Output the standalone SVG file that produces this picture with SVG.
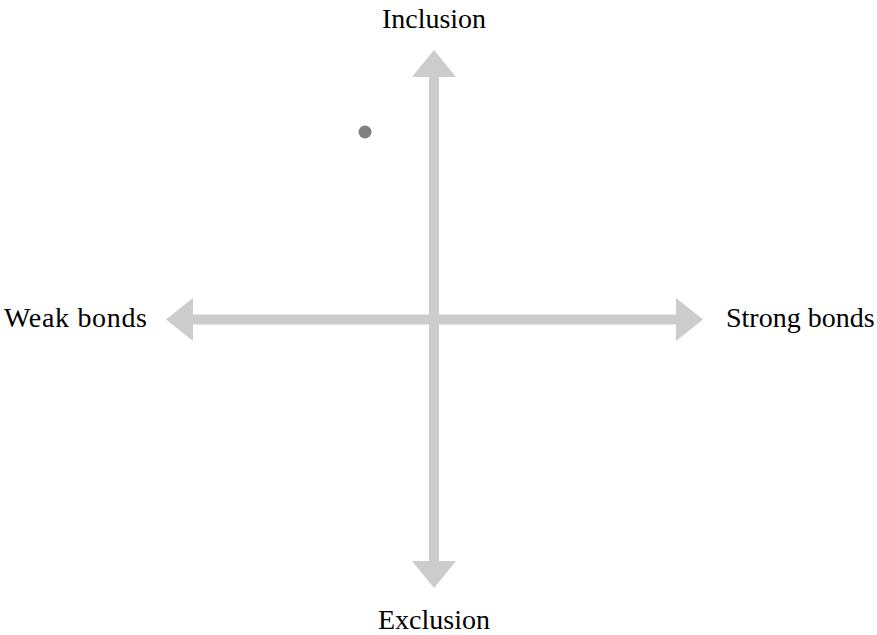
<svg xmlns="http://www.w3.org/2000/svg" width="877" height="635" viewBox="0 0 877 635">
<style>
.arrow{fill:#cccccc;stroke:none}
.lbl{font-family:"Liberation Serif","Times New Roman",serif;font-size:28px;fill:#000}
</style>
<rect width="877" height="635" fill="#ffffff"/>
<g id="connectors">
<polygon class="arrow" points="434,50 456,77 439,77 439,561 456,561 434,588 412,561 429,561 429,77 412,77"/>
<polygon class="arrow" points="166,319.5 193,298 193,314.5 676,314.5 676,298 703,319.5 676,341 676,324.5 193,324.5 193,341"/>
</g>
<g id="point"><circle cx="365" cy="132" r="6.5" fill="#808080"/></g>
<g id="inclusion"><text class="lbl" x="434" y="28" text-anchor="middle">Inclusion</text></g>
<g id="exclusion"><text class="lbl" x="434" y="629" text-anchor="middle">Exclusion</text></g>
<g id="weak"><text class="lbl" x="4" y="327" textLength="143">Weak bonds</text></g>
<g id="strong"><text class="lbl" x="726" y="327">Strong bonds</text></g>
</svg>
